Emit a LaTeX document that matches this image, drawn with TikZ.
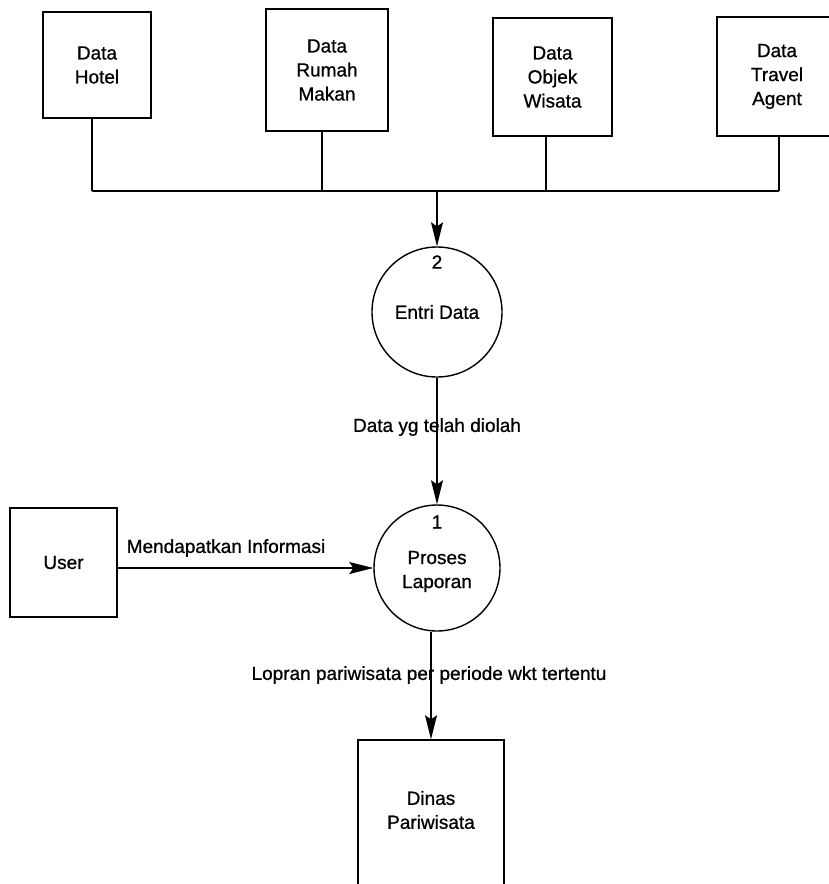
\documentclass[tikz,border=0pt]{standalone}
\usepackage{fontspec}
\setmainfont{Liberation Sans}[BoldFont={Liberation Sans}, BoldFeatures={FakeBold=0.8}]
\usetikzlibrary{arrows.meta}
\begin{document}
\begin{tikzpicture}[x=1pt,y=-1pt,
  every node/.style={font=\fontsize{19}{24}\selectfont\bfseries, align=center, inner sep=0pt},
  entity/.style={draw, line width=1.4pt, rectangle},
  process/.style={draw, line width=1.4pt, circle},
  flow/.style={line width=1.4pt},
  arr/.style={flow, -{Stealth[length=24pt, width=12pt, inset=4pt]}},
  lbl/.style={fill=none}]
  \clip (0,0) rectangle (829,884);
  \fill[white] (0,0) rectangle (829,884);

  % external entities
  \node[entity, minimum width=108pt, minimum height=106pt] (hotel)  at (97,65)    {Data\\Hotel};
  \node[entity, minimum width=122pt, minimum height=122pt] (rumah)  at (327,70)   {Data\\Rumah\\Makan};
  \node[entity, minimum width=119pt, minimum height=118pt] (objek)  at (552.5,77) {Data\\Objek\\Wisata};
  \node[entity, minimum width=120pt, minimum height=119pt] (travel) at (777,76.5) {Data\\Travel\\Agent};
  \node[entity, minimum width=107pt, minimum height=109pt] (user)   at (63.5,562.5) {User};
  \node[entity, minimum width=146pt, minimum height=160pt] (dinas)  at (431,820) {};
  \node (dinastext) at (431,810) {Dinas\\Pariwisata};

  % processes
  \node[process, minimum size=130pt] (e2) at (437,312) {Entri Data};
  \node (n2) at (437,262) {2};
  \node[process, minimum size=126pt] (p1) at (437,568) {\\[-4pt]Proses\\Laporan};
  \node (n1) at (437,522) {1};

  % collecting bus from the data stores
  \coordinate (b1) at (92,191);
  \coordinate (b2) at (322,191);
  \coordinate (b0) at (437,191);
  \coordinate (b3) at (546,191);
  \coordinate (b4) at (779,191);
  \draw[flow] (b1) -- (b4);
  \draw[flow] (hotel.south -| b1) -- (b1);
  \draw[flow] (rumah.south -| b2) -- (b2);
  \draw[flow] (objek.south -| b3) -- (b3);
  \draw[flow] (travel.south -| b4) -- (b4);

  % data flows
  \draw[arr] (b0) -- (e2.north);
  \draw[arr] (e2.south) -- (p1.north);
  \draw[arr] (user.east |- p1) -- (p1.west);
  \draw[arr] (p1.south -| dinas.north) -- (dinas.north);

  % flow labels
  \node[lbl] (l1) at (437,427) {Data yg telah diolah};
  \node[lbl] (l2) at (226,548) {Mendapatkan Informasi};
  \node[lbl] (l3) at (429,675) {Lopran pariwisata per periode wkt tertentu};
\end{tikzpicture}
\end{document}
